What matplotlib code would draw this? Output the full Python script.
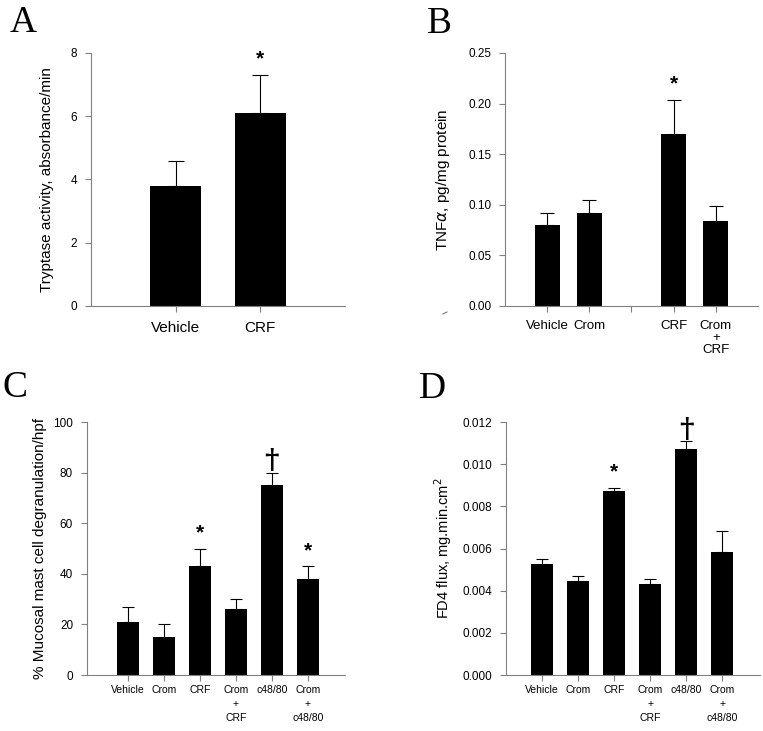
import matplotlib
matplotlib.use("Agg")
import matplotlib.pyplot as plt
from matplotlib.lines import Line2D
import numpy as np

plt.rcParams['font.family'] = ['Liberation Sans', 'DejaVu Sans']

# panel A - tryptase activity
a_labels = ["Vehicle", "CRF"]
a_pos = [0, 1]
a_mean = [3.8, 6.1]
a_top = [4.6, 7.3]
a_marks = {1: "*"}

# panel B - TNF alpha (empty slot at position 2)
b_labels = ["Vehicle", "Crom", "", "CRF", "Crom\n+\nCRF"]
b_pos = [0, 1, 3, 4]
b_mean = [0.080, 0.092, 0.170, 0.084]
b_top = [0.092, 0.105, 0.204, 0.099]
b_marks = {3: "*"}

# panel C - mucosal mast cell degranulation
c_labels = ["Vehicle", "Crom", "CRF", "Crom\n+\nCRF", "c48/80", "Crom\n+\nc48/80"]
c_pos = [0, 1, 2, 3, 4, 5]
c_mean = [21, 15, 43, 26, 75, 38]
c_top = [27, 20, 50, 30, 80, 43]
c_marks = {2: "*", 4: "†", 5: "*"}

# panel D - FD4 flux
d_labels = c_labels
d_pos = c_pos
d_mean = [0.00525, 0.00445, 0.00875, 0.0043, 0.0107, 0.00585]
d_top = [0.0055, 0.00468, 0.00888, 0.00453, 0.0111, 0.00685]
d_marks = {2: "*", 4: "†"}

SPINE = "#808080"


def draw_panel(ax, pos, mean, top, labels, marks, ymax, yticks, yfmt,
               ylabel, ylab_x, ylab_fs, xlim, xfs, lsp, xpad, capsize):
    ax.bar(pos, mean, width=0.6, color="black", zorder=2)
    err = np.array(top) - np.array(mean)
    ax.errorbar(pos, mean, yerr=[np.zeros(len(err)), err], fmt="none",
                ecolor="black", elinewidth=0.8, capsize=capsize,
                capthick=0.8, zorder=3)
    ax.set_ylim(0, ymax)
    ax.set_xlim(*xlim)
    ax.set_yticks(yticks)
    ax.set_yticklabels([yfmt.format(v) for v in yticks], fontsize=8.5)
    ax.set_xticks(range(len(labels)))
    ax.set_xticklabels(labels, fontsize=xfs, linespacing=lsp, va="top")
    ax.set_ylabel(ylabel, fontsize=ylab_fs)
    ax.yaxis.set_label_coords(ylab_x, 0.5)
    ax.yaxis.label.set_verticalalignment("center")
    for s in ["top", "right"]:
        ax.spines[s].set_visible(False)
    for s in ["left", "bottom"]:
        ax.spines[s].set_color(SPINE)
        ax.spines[s].set_linewidth(0.8)
    ax.tick_params(axis="both", direction="out", length=4, width=0.8,
                   color=SPINE)
    ax.tick_params(axis="y", pad=6)
    ax.tick_params(axis="x", pad=xpad)
    # significance symbols above the error bars
    for i, sym in marks.items():
        k = pos.index(i)
        if sym == "*":
            ax.text(i, top[k] + ymax * 0.025, "*", ha="center", va="bottom",
                    fontsize=15, fontweight="bold")
        else:
            ax.text(i, top[k] - ymax * 0.01, sym, ha="center", va="bottom",
                    fontsize=20, fontweight="bold", family="DejaVu Serif")


fig = plt.figure(figsize=(7.63, 7.31), dpi=100)

axA = fig.add_axes([0.1193, 0.5814, 0.3327, 0.3461])
draw_panel(axA, a_pos, a_mean, a_top, a_labels, a_marks, 8,
           [0, 2, 4, 6, 8], "{:g}", "Tryptase activity, absorbance/min",
           -0.173, 11, (-1, 2), 11, 1.0, 7, 5.5)

axB = fig.add_axes([0.6619, 0.5814, 0.3315, 0.3461])
draw_panel(axB, b_pos, b_mean, b_top, b_labels, b_marks, 0.25,
           [0, 0.05, 0.10, 0.15, 0.20, 0.25], "{:.2f}",
           r"TNF$\alpha$, pg/mg protein", -0.245, 11, (-1, 5), 9.5, 1.0, 6, 5)

axC = fig.add_axes([0.114, 0.0766, 0.338, 0.3461])
draw_panel(axC, c_pos, c_mean, c_top, c_labels, c_marks, 100,
           [0, 20, 40, 60, 80, 100], "{:g}",
           "% Mucosal mast cell degranulation/hpf", -0.182, 11,
           (-1.14, 6.03), 7.5, 1.5, 3, 4.3)

axD = fig.add_axes([0.6632, 0.0766, 0.3329, 0.3461])
draw_panel(axD, d_pos, d_mean, d_top, d_labels, d_marks, 0.012,
           [0, 0.002, 0.004, 0.006, 0.008, 0.010, 0.012], "{:.3f}",
           r"FD4 flux, mg.min.cm$^2$", -0.248, 10.5,
           (-1, 6.05), 7.5, 1.5, 3, 4.3)

# panel letters
for x, y, letter in [(0.012, 0.9562, "A"), (0.560, 0.9549, "B"),
                     (0.003, 0.457, "C"), (0.5495, 0.4555, "D")]:
    fig.text(x, y, letter, fontsize=27, family="Liberation Serif",
             ha="left", va="baseline")

# small stray stroke left of panel B's axis
fig.add_artist(Line2D([0.5806, 0.5858], [0.5705, 0.5732],
                      color="#777777", linewidth=0.8))

fig.savefig("out.png", dpi=100)
